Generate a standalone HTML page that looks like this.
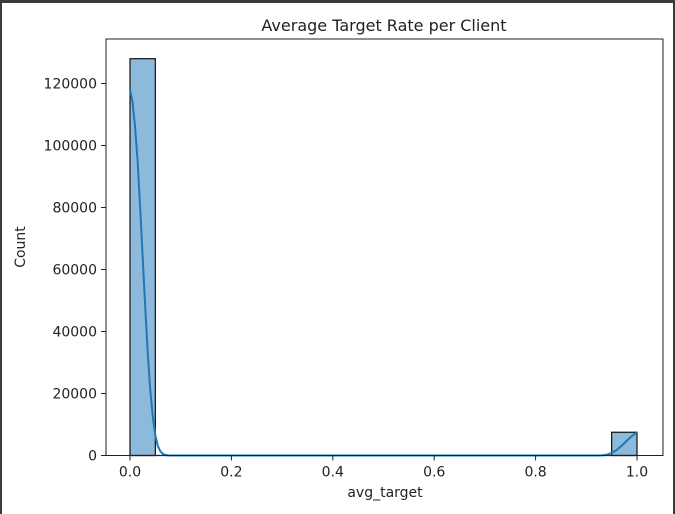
<!DOCTYPE html>
<html><head><meta charset="utf-8"><style>
html,body{margin:0;padding:0;background:#fff;}
body{width:675px;height:514px;overflow:hidden;position:relative;}
.frame{position:absolute;left:0;top:0;width:675px;height:514px;box-sizing:border-box;border-top:3px solid #3a3a3a;border-left:2px solid #3a3a3a;border-right:2px solid #3a3a3a;}
svg text{font-family:"DejaVu Sans","Liberation Sans",sans-serif;fill:#222;}
</style></head><body>
<div class="frame"></div>
<svg id="chart" width="675" height="514" style="position:absolute;left:0;top:0">
<text x="384" y="31" font-size="16" text-anchor="middle">Average Target Rate per Client</text>
<text x="385" y="497" font-size="14" text-anchor="middle">avg_target</text>
<text x="25" y="247" font-size="14" text-anchor="middle" transform="rotate(-90 25 247)">Count</text>
<g id="bars"></g><g id="kde"></g><g id="axes"></g>
</svg>
<script>
const binEdges=[0,0.05,0.1,0.15,0.2,0.25,0.3,0.35,0.4,0.45,0.5,0.55,0.6,0.65,0.7,0.75,0.8,0.85,0.9,0.95,1.0];
const counts=[128000,0,0,0,0,0,0,0,0,0,0,0,0,0,0,0,0,0,0,7500];
const kdeX=[0,0.005,0.01,0.015,0.02,0.025,0.03,0.035,0.04,0.045,0.05,0.055,0.06,0.065,0.07,0.075,0.08,0.5,0.92,0.93,0.94,0.95,0.96,0.97,0.98,0.99,1.0];
const kdeY=[118000,114000,106000,95000,80000,64000,48000,33000,21000,12500,6500,3000,1300,500,150,40,0,0,0,50,250,800,1800,3200,4800,6300,7500];
const xTicks=[0,0.2,0.4,0.6,0.8,1.0];
const xTickLabels=["0.0","0.2","0.4","0.6","0.8","1.0"];
const yTicks=[0,20000,40000,60000,80000,100000,120000];
const yTickLabels=["0","20000","40000","60000","80000","100000","120000"];
const L=106,R=663,T=39,B=455.5;
const sx=v=>130+v*507;
const sy=v=>B-v*0.0031;
const NS="http://www.w3.org/2000/svg";
function mk(tag,attrs,parent){const e=document.createElementNS(NS,tag);for(const k in attrs)e.setAttribute(k,attrs[k]);parent.appendChild(e);return e;}
const bars=document.getElementById('bars'),kde=document.getElementById('kde'),axes=document.getElementById('axes');
counts.forEach((c,i)=>{if(c<=0)return;
 const r=mk('rect',{x:sx(binEdges[i]),y:sy(c),width:sx(binEdges[i+1])-sx(binEdges[i]),height:B-sy(c),fill:'#8db9da',stroke:'#111','stroke-width':1.2},bars);
 
 
});
const base=mk('line',{x1:sx(binEdges[0]),x2:sx(binEdges[binEdges.length-1]),y1:B,y2:B,stroke:'#111','stroke-width':1.2},bars);


const p=mk('path',{d:kdeX.map((x,i)=>(i?'L':'M')+sx(x)+','+sy(kdeY[i])).join(''),fill:'none',stroke:'#1f77b4','stroke-width':2},kde);


const box=mk('rect',{x:L,y:T,width:R-L,height:B-T,fill:'none',stroke:'#222','stroke-width':1},axes);


xTicks.forEach((v,i)=>{
 const t=mk('line',{x1:sx(v),x2:sx(v),y1:B,y2:B+5,stroke:'#222'},axes);
 
 
 const tx=mk('text',{x:sx(v),y:B+21,'font-size':14,'text-anchor':'middle'},axes);tx.textContent=xTickLabels[i];
 
 
});
yTicks.forEach((v,i)=>{
 const t=mk('line',{x1:L-5,x2:L,y1:sy(v),y2:sy(v),stroke:'#222'},axes);
 
 
 const tx=mk('text',{x:L-9,y:sy(v)+5,'font-size':14,'text-anchor':'end'},axes);tx.textContent=yTickLabels[i];
 
 
});
</script>
</body></html>
